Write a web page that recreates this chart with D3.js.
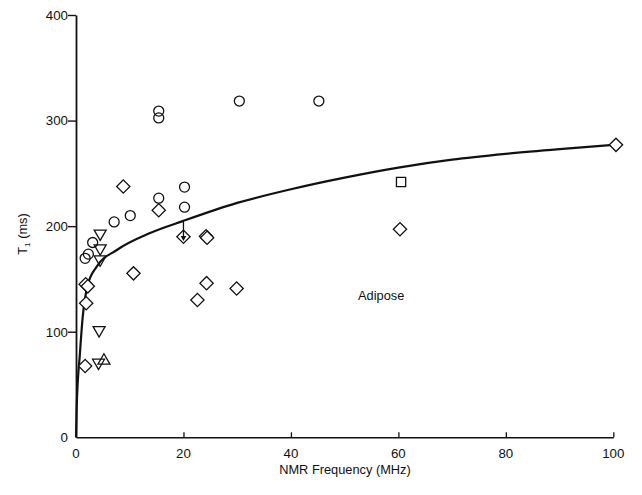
<!DOCTYPE html>
<html>
<head>
<meta charset="utf-8">
<script src="https://cdn.jsdelivr.net/npm/d3@7"></script>
<style>
  html, body { margin: 0; padding: 0; background: #fff; }
  svg { display: block; }
  text { font-family: "Liberation Sans", Arial, Helvetica, sans-serif; fill: #111; }
</style>
</head>
<body>
<svg id="chart" width="642" height="495"></svg>
<script>
// ---- Data ----
const xTicks = [0, 20, 40, 60, 80, 100];
const yTicks = [0, 100, 200, 300, 400];

// open circles
const circleFreq = [15.4, 15.4, 30.4, 45.2, 20.2, 15.4, 20.2, 10.1, 7.1, 3.1, 1.7, 2.3];
const circleT1   = [309, 302.5, 318.5, 318.5, 237, 226.5, 218, 210, 204, 184.5, 169.5, 173.5];

// open diamonds
const diamondFreq = [8.8, 15.4, 20.0, 24.2, 24.4, 10.7, 24.3, 22.6, 29.9, 60.3, 100.5, 1.8, 2.2, 1.9, 1.7];
const diamondT1   = [237.5, 215, 190, 190.5, 189, 155.3, 146, 130, 141, 197, 277, 145, 143, 127, 67.5];

// downward triangles
const triDownFreq = [4.5, 4.5, 4.5, 4.3, 4.2];
const triDownT1   = [193, 179, 168.5, 101.5, 70.7];

// upward triangle
const triUpFreq = [5.2];
const triUpT1   = [72.6];

// square
const squareFreq = [60.5];
const squareT1   = [241.8];

// arrow marking the 20 MHz point (from, to)
const arrowFreq = [20.0, 20.0];
const arrowT1   = [204, 190];

// fitted curve (traced)
const curveFreq = [0, 0.13, 0.74, 1.25, 2.1, 3.85, 7.6, 13.8, 20, 30, 40, 50, 60, 70, 80, 90, 100];
const curveT1   = [0, 29, 80, 114, 142.6, 161.6, 177.4, 193.5, 205, 222, 235, 246, 255.5, 263, 268.5, 273, 277];

// ---- Layout ----
const svg = d3.select("#chart");
const x = d3.scaleLinear().domain([0, 100]).range([76, 613.3]);
const y = d3.scaleLinear().domain([0, 400]).range([437.3, 15]);
const ink = "#111";
const fs = 13.3;

// Axes
const xAxis = d3.axisBottom(x).tickValues(xTicks.slice(1)).tickSizeInner(-5).tickSizeOuter(0).tickFormat("");
const gx = svg.append("g").attr("transform", `translate(0,${y(0)})`).call(xAxis);
gx.select(".domain").attr("stroke", ink).attr("stroke-width", 1.6);
gx.selectAll(".tick line").attr("stroke", ink).attr("stroke-width", 1.3);

svg.append("g").selectAll("text").data(xTicks).join("text")
  .attr("x", d => x(d)).attr("y", y(0) + 21)
  .attr("text-anchor", "middle").attr("font-size", fs).text(d => d);

const yAxis = d3.axisLeft(y).tickValues(yTicks.slice(1)).tickSizeInner(8).tickSizeOuter(0).tickFormat("");
const gy = svg.append("g").attr("transform", `translate(${x(0)},0)`).call(yAxis);
gy.select(".domain").attr("stroke", ink).attr("stroke-width", 1.8);
gy.selectAll(".tick line").attr("stroke", ink).attr("stroke-width", 1.4);

svg.append("g").selectAll("text").data(yTicks).join("text")
  .attr("x", x(0) - 8).attr("y", d => y(d) + 4.8)
  .attr("text-anchor", "end").attr("font-size", fs).text(d => d);

// Axis titles
svg.append("text").attr("x", 345).attr("y", 474).attr("text-anchor", "middle")
  .attr("font-size", 12.8).text("NMR Frequency (MHz)");

const yt = svg.append("text").attr("transform", "translate(27,234) rotate(-90)")
  .attr("text-anchor", "middle").attr("font-size", 12.8);
yt.append("tspan").text("T");
yt.append("tspan").attr("font-size", 8).attr("dy", 3).text("1");
yt.append("tspan").attr("dy", -3).text(" (ms)");

// Annotation
svg.append("text").attr("x", x(56.8)).attr("y", y(130)).attr("text-anchor", "middle")
  .attr("font-size", 12.8).text("Adipose");

// Curve
const curvePts = curveFreq.map((f, i) => [f, curveT1[i]]);
svg.append("path").datum(curvePts)
  .attr("fill", "none").attr("stroke", ink).attr("stroke-width", 2.2)
  .attr("d", d3.line().x(d => x(d[0])).y(d => y(d[1])).curve(d3.curveMonotoneX));

// Markers
const mk = svg.append("g").attr("fill", "none").attr("stroke", ink).attr("stroke-width", 1.3);

mk.selectAll("circle").data(circleFreq.map((f, i) => [f, circleT1[i]])).join("circle")
  .attr("cx", d => x(d[0])).attr("cy", d => y(d[1])).attr("r", 5);

const diamondPath = d3.symbol().type(d3.symbolSquare).size(88)();
mk.selectAll("path.dia").data(diamondFreq.map((f, i) => [f, diamondT1[i]])).join("path")
  .attr("class", "dia").attr("fill", "#fff")
  .attr("transform", d => `translate(${x(d[0])},${y(d[1])}) rotate(45)`).attr("d", diamondPath);

const triPath = d3.symbol().type(d3.symbolTriangle).size(62)();
mk.selectAll("path.td").data(triDownFreq.map((f, i) => [f, triDownT1[i]])).join("path")
  .attr("class", "td").attr("fill", "none")
  .attr("transform", d => `translate(${x(d[0])},${y(d[1])}) rotate(180)`).attr("d", triPath);
mk.selectAll("path.tu").data(triUpFreq.map((f, i) => [f, triUpT1[i]])).join("path")
  .attr("class", "tu").attr("fill", "none")
  .attr("transform", d => `translate(${x(d[0])},${y(d[1])})`).attr("d", triPath);

const sqPath = d3.symbol().type(d3.symbolSquare).size(85)();
mk.selectAll("path.sq").data(squareFreq.map((f, i) => [f, squareT1[i]])).join("path")
  .attr("class", "sq")
  .attr("transform", d => `translate(${x(d[0])},${y(d[1])})`).attr("d", sqPath);

// Arrow at 20 MHz
svg.append("line")
  .attr("x1", x(arrowFreq[0])).attr("y1", y(arrowT1[0]))
  .attr("x2", x(arrowFreq[1])).attr("y2", y(arrowT1[1]))
  .attr("stroke", ink).attr("stroke-width", 1.3);
svg.append("path")
  .attr("transform", `translate(${x(arrowFreq[1])},${y(arrowT1[1]) + 1}) rotate(180)`)
  .attr("d", d3.symbol().type(d3.symbolTriangle).size(14)())
  .attr("fill", ink);
</script>
</body>
</html>
